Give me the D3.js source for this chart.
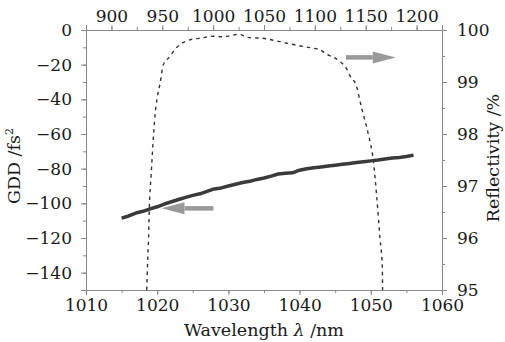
<!DOCTYPE html>
<html>
<head>
<meta charset="utf-8">
<script src="https://cdn.jsdelivr.net/npm/d3@7"></script>
<style>
  body { margin: 0; background: #fff; }
  .axis text { font-family: "DejaVu Serif", serif; font-size: 17px; fill: #1a1a1a; }
  .axis path, .axis line { stroke: #888; stroke-width: 1; }
  .axistext { font-family: "DejaVu Serif", serif; font-size: 17.5px; fill: #1a1a1a; }
</style>
</head>
<body>
<div class="chart"></div>
<script>
// GDD curve (bottom axis wavelength, left axis)
var gddWl  = [1015,1016,1017,1018,1019,1020,1021,1022,1023,1024,1025,1026,1027,1028,1029,1030,
              1031,1032,1033,1034,1035,1036,1037,1038,1039,1040,1041,1042,1043,1044,1045,1046,
              1047,1048,1049,1050,1051,1052,1053,1054,1055,1056];
var gddVal = [-108.5,-107.3,-105.6,-104.6,-103.2,-102.0,-100.4,-99.1,-97.8,-96.6,-95.4,-94.5,-93.1,-91.7,-91.1,-90.0,
              -89.0,-88.0,-87.3,-86.2,-85.4,-84.3,-83.1,-82.6,-82.4,-80.9,-80.1,-79.5,-79.0,-78.5,-78.0,-77.5,
              -77.0,-76.5,-76.0,-75.5,-75.0,-74.4,-73.8,-73.5,-73.0,-72.2];

// reflectivity curve (top axis wavelength, right axis)
var refWl  = [934.7,935.5,936.5,937.3,939,940.8,942.8,945,947.8,951,957.6,962.5,967.4,977,990,1000,
              1010,1017,1026,1033,1040,1049,1062,1079,1095,1105,1112,1120,1125,1131,1136,1140,
              1146,1152.5,1157.4,1160.8,1164,1166.3,1166.6];
var refVal = [95.0,95.5,96.0,96.6,97.2,97.8,98.35,98.7,98.97,99.33,99.49,99.63,99.72,99.81,99.85,99.88,
              99.87,99.89,99.92,99.86,99.85,99.84,99.79,99.72,99.66,99.62,99.53,99.46,99.39,99.26,99.07,98.97,
              98.5,98.0,97.5,96.8,96.0,95.45,95.0];

// tick values
var bottomTicks = [1010,1020,1030,1040,1050,1060];
var topTicks    = [900,950,1000,1050,1100,1150,1200];
var leftTicks   = [0,-20,-40,-60,-80,-100,-120,-140];
var rightTicks  = [95,96,97,98,99,100];

// arrows: [x1, y1, x2, y2] in bottom/left data units, tail -> tip
var arrowLeft  = [1027.9, -102.9, 1020.6, -102.9];
var arrowRight = [1046.5, -15.8, 1053.5, -15.8];

var xaxistext = "Wavelength ";
var yaxistext = "GDD /fs";
var y2axistext = "Reflectivity /%";

// setup
var margin = {top: 30, right: 63, bottom: 52, left: 86},
    width = 505 - margin.left - margin.right,
    height = 342 - margin.top - margin.bottom;

var svg = d3.select(".chart").append("svg")
    .attr("width", 505)
    .attr("height", 342)
  .append("g")
    .attr("transform", "translate(" + margin.left + "," + margin.top + ")");

var x = d3.scaleLinear().domain([1010, 1060]).range([0, width]);
var x2 = d3.scaleLinear().domain([875, 1225]).range([0, width]);
var y = d3.scaleLinear().domain([-150, 0]).range([height, 0]);
var y2 = d3.scaleLinear().domain([95, 100]).range([height, 0]);

function minor(scale, step) {
  var d = scale.domain(), out = [];
  var lo = Math.min(d[0], d[1]), hi = Math.max(d[0], d[1]);
  for (var v = Math.ceil(lo / step) * step; v <= hi + 1e-9; v += step) out.push(+v.toFixed(3));
  return out;
}

// minor ticks
svg.append("g").attr("class", "axis").attr("transform", "translate(0," + height + ")")
  .call(d3.axisBottom(x).tickValues(minor(x, 5)).tickSize(3).tickFormat(""));
svg.append("g").attr("class", "axis")
  .call(d3.axisTop(x2).tickValues(minor(x2, 25)).tickSize(3).tickFormat(""));
svg.append("g").attr("class", "axis")
  .call(d3.axisLeft(y).tickValues(minor(y, 10)).tickSize(3).tickFormat(""));
svg.append("g").attr("class", "axis").attr("transform", "translate(" + width + ",0)")
  .call(d3.axisRight(y2).tickValues(minor(y2, 0.5)).tickSize(3).tickFormat(""));

// major ticks
svg.append("g").attr("class", "x axis").attr("transform", "translate(0," + height + ")")
  .call(d3.axisBottom(x).tickValues(bottomTicks).tickSize(5).tickPadding(4).tickFormat(d3.format("d")));
svg.append("g").attr("class", "x2 axis")
  .call(d3.axisTop(x2).tickValues(topTicks).tickSize(5).tickPadding(3).tickFormat(d3.format("d")));
svg.append("g").attr("class", "y axis")
  .call(d3.axisLeft(y).tickValues(leftTicks).tickSize(5).tickPadding(9)
    .tickFormat(function(d){ return d < 0 ? "\u2212" + (-d) : d; }));
svg.append("g").attr("class", "y2 axis").attr("transform", "translate(" + width + ",0)")
  .call(d3.axisRight(y2).tickValues(rightTicks).tickSize(5).tickPadding(10).tickFormat(d3.format("d")));

// reflectivity dashed
var refData = refWl.map(function(w, i){ return {x: w, y: refVal[i]}; });
svg.append("path")
  .datum(refData)
  .attr("fill", "none")
  .attr("stroke", "#333")
  .attr("stroke-width", 1.4)
  .attr("stroke-dasharray", "3.5,4")
  .attr("d", d3.line().curve(d3.curveMonotoneX)
    .x(function(d){ return x2(d.x); }).y(function(d){ return y2(d.y); }));

// GDD thick line
var gddData = gddWl.map(function(w, i){ return {x: w, y: gddVal[i]}; });
svg.append("path")
  .datum(gddData)
  .attr("fill", "none")
  .attr("stroke", "#3a3a3a")
  .attr("stroke-width", 3.5)
  .attr("stroke-linejoin", "round")
  .attr("d", d3.line().x(function(d){ return x(d.x); }).y(function(d){ return y(d.y); }));

// arrows
function arrow(a) {
  var x1 = x(a[0]), y1 = y(a[1]), xt = x(a[2]), yt = y(a[3]);
  var dir = xt > x1 ? 1 : -1, head = 23, hh = 6;
  var xb = xt - dir * head;
  svg.append("line")
    .attr("x1", x1).attr("y1", y1).attr("x2", xb).attr("y2", yt)
    .attr("stroke", "#999").attr("stroke-width", 4.5);
  svg.append("path")
    .attr("d", "M" + xt + "," + yt + "L" + xb + "," + (yt - hh) + "L" + xb + "," + (yt + hh) + "Z")
    .attr("fill", "#999");
}
arrow(arrowLeft);
arrow(arrowRight);

// text label for the x axis
var xt = svg.append("text")
  .attr("class", "axistext")
  .attr("x", width / 2)
  .attr("y", height + 46)
  .style("text-anchor", "middle");
xt.append("tspan").text(xaxistext);
xt.append("tspan").style("font-style", "italic").text("\u03bb");
xt.append("tspan").text(" /nm");

// text label for the y axis
var yt = svg.append("text")
  .attr("class", "axistext")
  .attr("transform", "rotate(-90)")
  .attr("y", 0 - margin.left + 20)
  .attr("x", 0 - (height / 2) - 6)
  .style("text-anchor", "middle");
yt.append("tspan").text(yaxistext);
yt.append("tspan").attr("dy", -7).style("font-size", "11px").text("2");

// text label for the right axis
svg.append("text")
  .attr("class", "axistext")
  .attr("transform", "rotate(-90)")
  .attr("y", width + 57)
  .attr("x", 0 - (height / 2) + 2)
  .style("text-anchor", "middle")
  .text(y2axistext);
</script>
</body>
</html>
